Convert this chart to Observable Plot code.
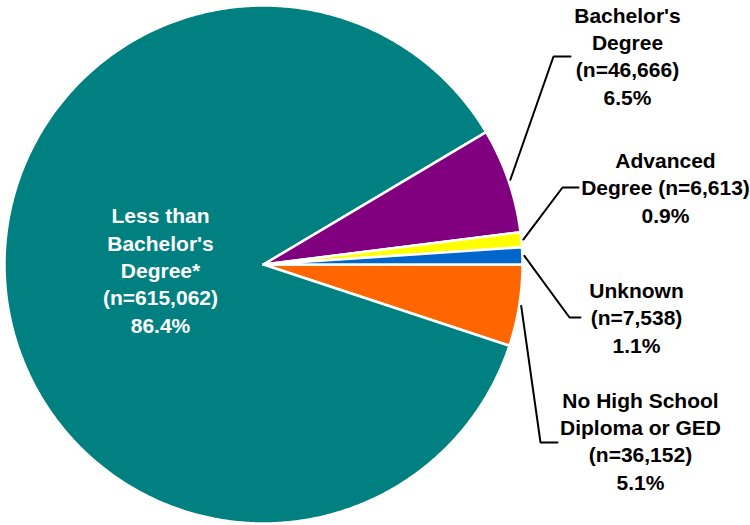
<!DOCTYPE html>
<html>
<head>
<meta charset="utf-8">
<script src="https://cdn.jsdelivr.net/npm/d3@7"></script>
<script src="https://cdn.jsdelivr.net/npm/@observablehq/plot@0.6"></script>
<style>
  html, body { margin: 0; padding: 0; background: #ffffff; }
  #chart svg { display: block; }
</style>
</head>
<body>
<div id="chart"></div>
<script>
// ---- Data (clockwise from 3 o'clock) ----
const categories = ["No High School Diploma or GED", "Less than Bachelor's Degree*", "Bachelor's Degree", "Advanced Degree", "Unknown"];
const counts = [36152, 615062, 46666, 6613, 7538];
const percents = ["5.1%", "86.4%", "6.5%", "0.9%", "1.1%"];
const labelLines = [
  ["No High School", "Diploma or GED", "(n=36,152)", "5.1%"],
  ["Less than", "Bachelor's", "Degree*", "(n=615,062)", "86.4%"],
  ["Bachelor's", "Degree", "(n=46,666)", "6.5%"],
  ["Advanced", "Degree (n=6,613)", "0.9%"],
  ["Unknown", "(n=7,538)", "1.1%"]
];
const colors = ["#FF6600", "#008080", "#800080", "#FFFF00", "#0066CC"];

// ---- Layout (styling only, pixel units relative to pie centre) ----
const W = 750, H = 525;
const CX = 263, CY = 264, R = 259;
const labelPos = [ // [x, y of last line baseline]
  [377, 225], [-103, 68], [364, -160], [402, -42], [373, 88]
];
const textColor = ["#000", "#fff", "#000", "#000", "#000"];
const leaderElbow = [ // [elbow x, elbow y, end x] ; null = no leader
  [277, 178, 294], null, [290, -208, 307], [299, -77, 315], [306, 53, 317]
];

// ---- Pie geometry computed from the data ----
const total = d3.sum(counts);
let acc = 0;
const slices = counts.map((c, i) => {
  const a0 = acc / total * 2 * Math.PI;
  acc += c;
  const a1 = acc / total * 2 * Math.PI;
  return {i, name: categories[i], a0, a1, mid: (a0 + a1) / 2};
});

const slicePts = [];
for (const s of slices) {
  slicePts.push({k: s.i, x: 0, y: 0});
  const n = Math.max(2, Math.ceil((s.a1 - s.a0) / (Math.PI / 360)));
  for (let j = 0; j <= n; j++) {
    const a = s.a0 + (s.a1 - s.a0) * j / n;
    slicePts.push({k: s.i, x: R * Math.cos(a), y: R * Math.sin(a)});
  }
  slicePts.push({k: s.i, x: 0, y: 0});
}

const leaderPts = [];
slices.forEach(s => {
  const e = leaderElbow[s.i];
  if (!e) return;
  leaderPts.push({k: s.i, x: (R + 2) * Math.cos(s.mid), y: (R + 2) * Math.sin(s.mid)});
  leaderPts.push({k: s.i, x: e[0], y: e[1]});
  leaderPts.push({k: s.i, x: e[2], y: e[1]});
});

const labels = slices.map(s => ({
  k: s.i,
  x: labelPos[s.i][0],
  y: labelPos[s.i][1],
  text: labelLines[s.i].join("\n"),
  color: textColor[s.i]
}));

const sliceMarks = slices.map(s =>
  Plot.line(slicePts.filter(d => d.k === s.i), {
    x: "x", y: "y",
    fill: colors[s.i],
    stroke: "#ffffff",
    strokeWidth: 2.5,
    strokeLinejoin: "round"
  })
);

const chart = Plot.plot({
  width: W,
  height: H,
  margin: 0,
  x: {domain: [-CX, W - CX], range: [0, W], axis: null},
  y: {domain: [-CY, H - CY], range: [0, H], axis: null},
  style: {fontFamily: "'Liberation Sans', Arial, sans-serif", background: "#ffffff"},
  marks: [
    ...sliceMarks,
    Plot.line(leaderPts, {x: "x", y: "y", z: "k", stroke: "#000000", strokeWidth: 2, strokeLinejoin: "miter"}),
    Plot.text(labels, {
      x: "x", y: "y", text: "text",
      fill: d => d.color,
      textAnchor: "middle",
      lineAnchor: "bottom",
      lineHeight: 1.3,
      fontSize: 21,
      fontWeight: "bold"
    })
  ]
});
document.getElementById("chart").appendChild(chart);
</script>
</body>
</html>
